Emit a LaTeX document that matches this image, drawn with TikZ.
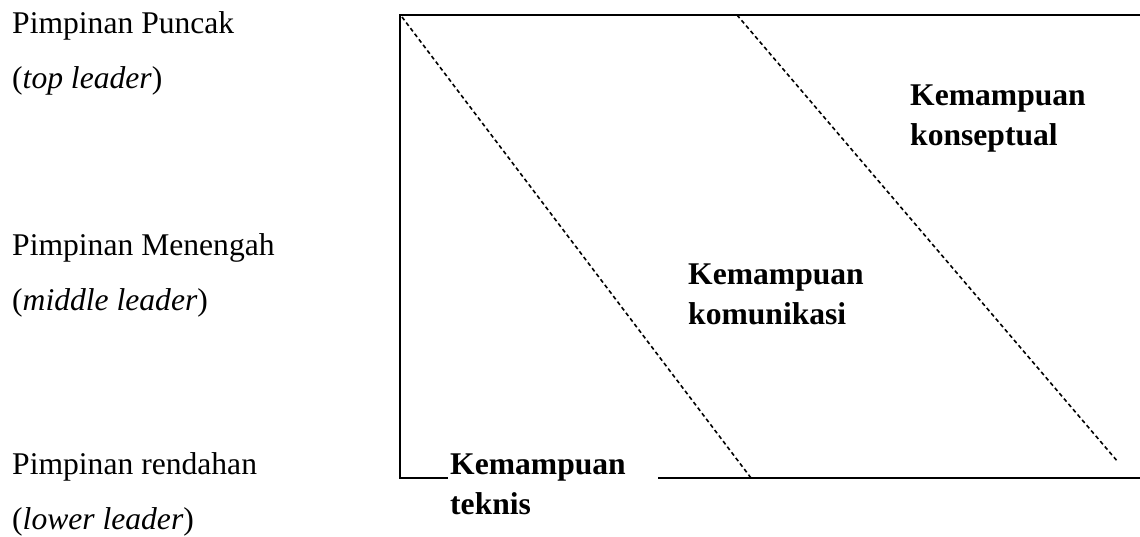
\documentclass[tikz,border=0pt]{standalone}
\usepackage{fontspec}
\setmainfont{Liberation Serif}
\usepackage{tikz}
\usetikzlibrary{positioning}
\tikzset{
  lvl/.style  ={anchor=base west, inner sep=0pt, align=left, font=\fontsize{31.6}{55}\selectfont},
  skill/.style={anchor=base west, inner sep=0pt, align=left, font=\fontsize{31.6}{40}\selectfont\bfseries},
  frame/.style={line width=2pt},
  split/.style={line width=1.6pt, dash pattern=on 4pt off 3pt},
}

\begin{document}
\begin{tikzpicture}[x=1pt, y=-1pt]
  \useasboundingbox (0,0) rectangle (1140,536);

  % ---- leader levels (left column), placed by last baseline ----
  \node[lvl] (top) at (12,88)  {Pimpinan Puncak\\(\textit{top leader})};
  \node[lvl] (mid) at (12,310) {Pimpinan Menengah\\(\textit{middle leader})};
  \node[lvl] (low) at (12,529) {Pimpinan rendahan\\(\textit{lower leader})};

  % ---- frame, open at the right ----
  \coordinate (tl) at (400,15);
  \coordinate (tr) at (1140,15);
  \coordinate (bl) at (400,478);
  \coordinate (g1) at (448,478);
  \coordinate (g2) at (658,478);
  \coordinate (br) at (1140,478);
  \draw[frame] (tr) -- (tl) -- (bl) -- (g1);
  \draw[frame] (g2) -- (br);

  % ---- dashed boundaries between the skill areas ----
  \coordinate (d1a) at (402,17);
  \coordinate (d1b) at (751,478);
  \coordinate (d2a) at (737,15);
  \coordinate (d2b) at (1118,462);
  \draw[split] (d1a) -- (d1b);
  \draw[split] (d2a) -- (d2b);

  % ---- skill labels ----
  \node[skill] (konsep) at (910,145) {Kemampuan\\konseptual};
  \node[skill] (komun)  at (688,324) {Kemampuan\\komunikasi};
  \node[skill] (teknis) at (450,514) {Kemampuan\\teknis};
\end{tikzpicture}
\end{document}
